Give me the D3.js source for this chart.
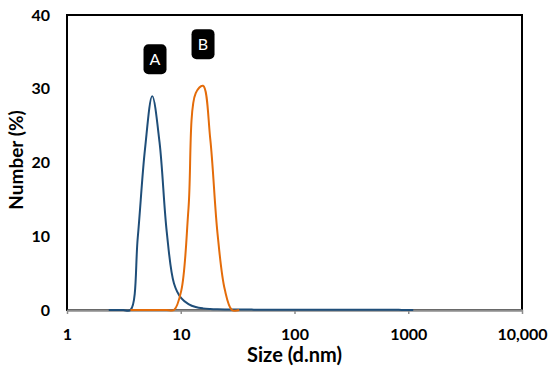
<!DOCTYPE html>
<html><head><meta charset="utf-8">
<script src="https://cdn.jsdelivr.net/npm/d3@7"></script>
<style>body{margin:0;background:#fff}svg{display:block}</style>
</head><body>
<script>
// Data
const sizesA = [2.328,2.696,3.122,3.615,4.187,4.849,5.615,6.503,7.531,8.721,10.1,11.7,13.54,15.69,18.17,21.04,24.36,28.21,32.67,37.84,43.82,50.75,58.77,68.06,78.82,91.28,105.7,122.4,141.8,164.2,190.1,220.2,255.0,295.3,342.0,396.1,458.7,531.2,615.1,712.4,825.0,955.4,1106];
const valuesA = [0,0,0,0,9.8,21.8,29.0,22.8,10.6,3.6,1.6,0.8,0.4,0.22,0.14,0.1,0.08,0.07,0.06,0.06,0.05,0.05,0.05,0.05,0.05,0.05,0.05,0.04,0.04,0.04,0.04,0.04,0.04,0.04,0.03,0.03,0.03,0.03,0.02,0.02,0.02,0.01,0];
const sizesB = [3.615,4.187,4.849,5.615,6.503,7.531,8.721,10.1,11.7,13.54,15.69,18.17,21.04,24.36,28.21,32.67];
const valuesB = [0,0,0,0,0,0,0,2.6,13.8,29.4,30.4,23.2,10.4,2.8,0,0];
const xTicks = [1,10,100,1000,10000];
const xTickLabels = ["1","10","100","1000","10,000"];
const yTicks = [0,10,20,30,40];
const labels = [{text:"A", size:5.94, value:34.0},{text:"B", size:15.7, value:36.05}];

const W=550,H=376;
const m={l:67,r:28,t:15,b:66};
const svg=d3.select("body").append("svg").attr("width",W).attr("height",H);
const x=d3.scaleLog().domain([1,10000]).range([m.l,W-m.r]);
const y=d3.scaleLinear().domain([0,40]).range([H-m.b,m.t]);
const font="Lato, 'Open Sans', sans-serif";

// frame
svg.append("rect").attr("x",x(1)).attr("y",y(40)).attr("width",x(10000)-x(1)).attr("height",y(0)-y(40))
  .attr("fill","none").attr("stroke","#000").attr("stroke-width",2);

// x axis
const xa=svg.append("g").attr("transform",`translate(0,${y(0)})`)
  .call(d3.axisBottom(x).tickValues(xTicks).tickFormat((d,i)=>xTickLabels[i]).tickSizeOuter(0).tickSizeInner(4).tickPadding(15));
xa.select(".domain").attr("stroke","#8c8c8c").attr("stroke-width",2.5);
xa.selectAll(".tick line").attr("stroke","#8c8c8c").attr("stroke-width",1.5);
xa.selectAll("text").attr("font-family",font).attr("font-weight","bold").attr("font-size",16).attr("fill","#000");

// y axis labels
const ya=svg.append("g").attr("transform",`translate(${x(1)},0)`)
  .call(d3.axisLeft(y).tickValues(yTicks).tickSize(0).tickPadding(17));
ya.select(".domain").remove();
ya.selectAll("text").attr("font-family",font).attr("font-weight","bold").attr("font-size",16).attr("fill","#000");

// lines
const line=d3.line().x(d=>x(d[0])).y(d=>y(d[1])).curve(d3.curveCatmullRom.alpha(0.5));
svg.append("path").datum(sizesA.map((s,i)=>[s,valuesA[i]])).attr("d",line)
  .attr("fill","none").attr("stroke","#1f4e79").attr("stroke-width",2);
svg.append("path").datum(sizesB.map((s,i)=>[s,valuesB[i]])).attr("d",line)
  .attr("fill","none").attr("stroke","#e46c0a").attr("stroke-width",2);

// labels
labels.forEach(l=>{
  const cx=x(l.size), cy=y(l.value);
  svg.append("rect").attr("x",cx-11.5).attr("y",cy-15).attr("width",23).attr("height",30).attr("rx",5).attr("fill","#000");
  svg.append("text").attr("x",cx).attr("y",cy).attr("dy","0.36em").attr("text-anchor","middle")
    .attr("font-family",font).attr("font-size",16).attr("fill","#fff").text(l.text);
});

// axis titles
svg.append("text").attr("x",(x(1)+x(10000))/2).attr("y",362).attr("text-anchor","middle")
  .attr("font-family",font).attr("font-weight","bold").attr("font-size",20).text("Size (d.nm)");
svg.append("text").attr("transform",`translate(23,160) rotate(-90)`).attr("text-anchor","middle")
  .attr("font-family",font).attr("font-weight","bold").attr("font-size",19).text("Number (%)");
</script>
</body></html>
